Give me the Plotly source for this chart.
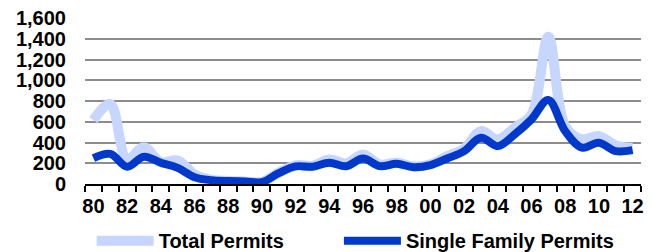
import plotly.graph_objects as go

years = list(range(1980, 2013))
total_permits = [616, 770, 237, 355, 210, 227, 92, 40, 30, 25, 20, 110, 180, 175, 237, 198,
                 285, 188, 205, 170, 190, 269, 340, 510, 430, 543, 671, 1420, 558, 430, 462, 372, 350]
single_family = [250, 290, 166, 263, 205, 156, 66, 37, 28, 24, 18, 105, 170, 166, 205, 172,
                 246, 172, 195, 162, 182, 246, 317, 446, 365, 478, 623, 810, 510, 350, 398, 317, 327]
tick_years = list(range(1980, 2013, 2))
tick_labels = [f"{y % 100:02d}" for y in tick_years]

FONT = "Liberation Sans, Arial, sans-serif"
PAD = "\u00a0" * 9

fig = go.Figure()
fig.add_trace(go.Scatter(x=years, y=total_permits, name="Total Permits" + PAD, mode="lines",
                         line=dict(color="#C6D6FE", width=10, shape="spline", smoothing=1.0)))
fig.add_trace(go.Scatter(x=years, y=single_family, name="Single Family Permits", mode="lines",
                         line=dict(color="#0038CC", width=8, shape="spline", smoothing=1.0)))

fig.update_layout(
    width=654, height=252,
    margin=dict(l=85, r=13, t=18, b=68, autoexpand=False),
    plot_bgcolor="white", paper_bgcolor="white",
    font=dict(family=FONT, size=20, color="black"),
    showlegend=True,
    legend=dict(orientation="h", x=0.012, xanchor="left",
                yref="container", y=0.045, yanchor="middle",
                bgcolor="rgba(0,0,0,0)", itemwidth=57,
                font=dict(family=FONT, size=20, color="black", weight="bold"),
                traceorder="normal"),
)
fig.update_xaxes(
    range=[1979.5, 2012.5],
    tickmode="array", tickvals=tick_years, ticktext=tick_labels,
    ticks="outside", ticklen=0, tickcolor="rgba(0,0,0,0)",
    ticklabelstandoff=3,
    tickfont=dict(family=FONT, size=20, color="black", weight="bold"),
    showline=True, linecolor="black", linewidth=2,
    showgrid=False, zeroline=False, automargin=False,
    minor=dict(tickmode="array", tickvals=[y - 0.5 for y in range(1980, 2014)],
               ticks="outside", ticklen=6, tickwidth=1.5, tickcolor="black", showgrid=False),
)
fig.update_yaxes(
    range=[0, 1600], dtick=200, tickformat=",",
    tickfont=dict(family=FONT, size=20, color="black", weight="bold"),
    showline=False, showgrid=True, gridcolor="#8C8C8C", gridwidth=1.5,
    zeroline=False, ticks="", ticklabelstandoff=18, automargin=False,
)

fig.write_html("out.html", config={"displayModeBar": False},
               post_script="document.body.style.margin='0';")
